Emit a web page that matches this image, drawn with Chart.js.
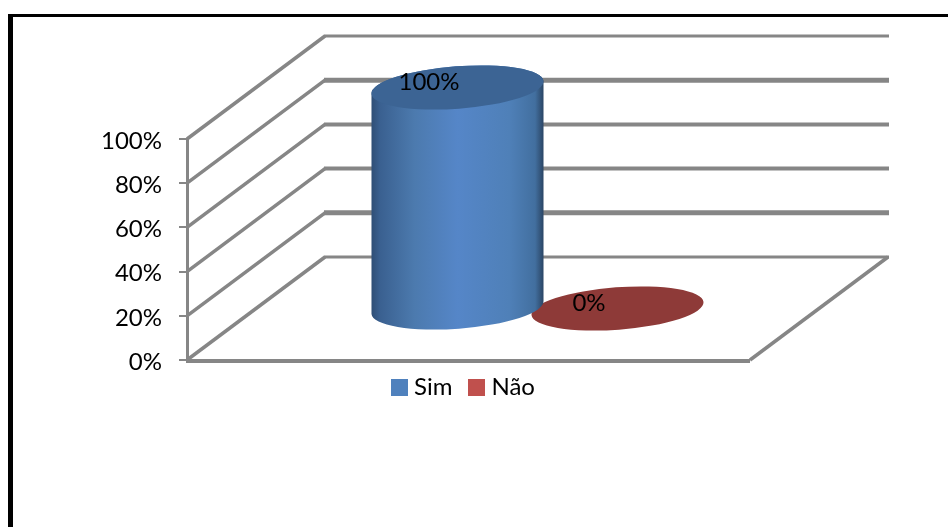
<!DOCTYPE html>
<html>
<head>
<meta charset="utf-8">
<title>Sim / Não</title>
<script src="https://cdn.jsdelivr.net/npm/chart.js@4"></script>
<style>
    html, body { margin: 0; padding: 0; background: #fff; overflow: hidden; }
    #frame { position: absolute; left: 8px; top: 14px; right: 0; bottom: 0; border-left: 5px solid #000; border-top: 3px solid #000; }
    #orderChart { position: absolute; left: 0; top: 0; }
</style>
</head>
<body>
<div id="frame"></div>
<canvas id="orderChart" width="948" height="527"></canvas>
<script>
const categories = [''];
const simValues = [100];
const naoValues = [0];
const tickValues = [0, 20, 40, 60, 80, 100];

const gridColor = '#868686';
const fontName = 'Lato';
const fontSize = 24;

// profundidade do grafico 3D (parede do fundo em relacao a frente)
const depthX = 138;
const depthY = 103;
const backLineWidths = [3, 5, 4, 4, 5, 3];

function makeSwatch(color) {
    const c = document.createElement('canvas');
    c.width = 17;
    c.height = 17;
    const g = c.getContext('2d');
    g.fillStyle = color;
    g.fillRect(0, 0, 17, 17);
    return c;
}

// Paredes e piso em perspectiva, a partir da escala y
const wallsPlugin = {
    id: 'walls',
    afterLayout(chart) {
        chart.legend.top -= 7;
        chart.legend.bottom -= 7;
        chart.legend.left += 91;
        chart.legend.right += 91;
    },
    beforeDatasetsDraw(chart) {
        const { ctx, chartArea, scales } = chart;
        ctx.save();
        ctx.strokeStyle = gridColor;
        ctx.lineCap = 'butt';
        tickValues.forEach((v, i) => {
            const y = scales.y.getPixelForValue(v);
            ctx.beginPath();
            ctx.lineWidth = 3.5;
            ctx.moveTo(chartArea.left, y);
            ctx.lineTo(chartArea.left + depthX, y - depthY);
            ctx.stroke();
            ctx.beginPath();
            ctx.lineWidth = backLineWidths[i];
            ctx.moveTo(chartArea.left + depthX - 1, y - depthY);
            ctx.lineTo(chartArea.right + depthX + 1, y - depthY);
            ctx.stroke();
        });
        const floorY = scales.y.getPixelForValue(0);
        ctx.beginPath();
        ctx.lineWidth = 3.5;
        ctx.moveTo(chartArea.right, floorY);
        ctx.lineTo(chartArea.right + depthX, floorY - depthY);
        ctx.stroke();
        ctx.beginPath();
        ctx.lineWidth = 4;
        ctx.moveTo(chartArea.left - 1, floorY + 1);
        ctx.lineTo(chartArea.right, floorY + 1);
        ctx.stroke();
        ctx.restore();
    },
    beforeDatasetDraw(chart, args) {
        const { ctx } = chart;
        const ds = chart.data.datasets[args.index];
        const tilt = -4.25 * Math.PI / 180;
        args.meta.data.forEach(bar => {
            const cx = bar.x + depthX / 2;
            const topY = bar.y - depthY / 2;
            const baseY = bar.base - depthY / 2;
            const a = bar.width / 2;
            const b = 21.2;
            ctx.save();
            if (baseY - topY > 1) {
                const grad = ctx.createLinearGradient(cx - a, 0, cx + a, 0);
                grad.addColorStop(0, '#2f4e75');
                grad.addColorStop(0.05, '#3a6090');
                grad.addColorStop(0.25, '#4c7aae');
                grad.addColorStop(0.5, '#5586c8');
                grad.addColorStop(0.8, '#4f80b8');
                grad.addColorStop(0.95, '#426f9f');
                grad.addColorStop(1, '#2a4463');
                ctx.fillStyle = grad;
                ctx.beginPath();
                ctx.ellipse(cx, baseY, a, b, tilt, 0, Math.PI);
                ctx.ellipse(cx, topY, a, b, tilt, Math.PI, 0);
                ctx.closePath();
                ctx.fill();
            }
            ctx.fillStyle = ds.topColor;
            ctx.beginPath();
            ctx.ellipse(cx, topY, a, b, tilt, 0, Math.PI * 2);
            ctx.fill();
            ctx.restore();
        });
        return false;
    },
    afterDatasetsDraw(chart) {
        const { ctx } = chart;
        ctx.save();
        ctx.font = fontSize + 'px ' + fontName;
        ctx.fillStyle = '#000';
        ctx.textAlign = 'center';
        ctx.textBaseline = 'middle';
        chart.data.datasets.forEach((ds, i) => {
            chart.getDatasetMeta(i).data.forEach((bar, j) => {
                ctx.fillText(ds.data[j] + '%', bar.x + depthX / 2 - 28.5, bar.y - depthY / 2 - 5);
            });
        });
        ctx.restore();
    }
};

const config = {
    type: 'bar',
    data: {
        labels: categories,
        datasets: [
            { label: 'Sim', data: simValues, backgroundColor: '#4f81bd', topColor: '#3c6494' },
            { label: 'Não', data: naoValues, backgroundColor: '#c0504d', topColor: '#8e3a38' }
        ]
    },
    options: {
        responsive: false,
        animation: false,
        categoryPercentage: 0.5684,
        barPercentage: 1.078,
        layout: { padding: { top: 139, right: 198, bottom: 111, left: 0 } },
        scales: {
            x: { display: false },
            y: {
                min: 0,
                max: 100,
                afterFit(scale) { scale.width = 187; },
                ticks: {
                    stepSize: 20,
                    padding: 17,
                    color: '#000',
                    // linha vazia antes do texto: desce o rotulo 2px
                    font: { family: fontName, size: fontSize, lineHeight: 0.17 },
                    callback: v => ['', v + '%']
                },
                grid: { drawOnChartArea: false, color: gridColor, lineWidth: 2, tickLength: 8 },
                border: { color: gridColor, width: 3 }
            }
        },
        plugins: {
            tooltip: { enabled: false },
            legend: {
                position: 'bottom',
                labels: {
                    color: '#000',
                    font: { family: fontName, size: fontSize },
                    padding: 22,
                    usePointStyle: true,
                    pointStyleWidth: 5,
                    boxHeight: 17,
                    generateLabels(chart) {
                        const items = Chart.defaults.plugins.legend.labels.generateLabels(chart);
                        items.forEach(item => { item.pointStyle = makeSwatch(item.fillStyle); });
                        return items;
                    }
                }
            }
        }
    },
    plugins: [wallsPlugin]
};

const chart = new Chart(document.getElementById('orderChart').getContext('2d'), config);
</script>
</body>
</html>
